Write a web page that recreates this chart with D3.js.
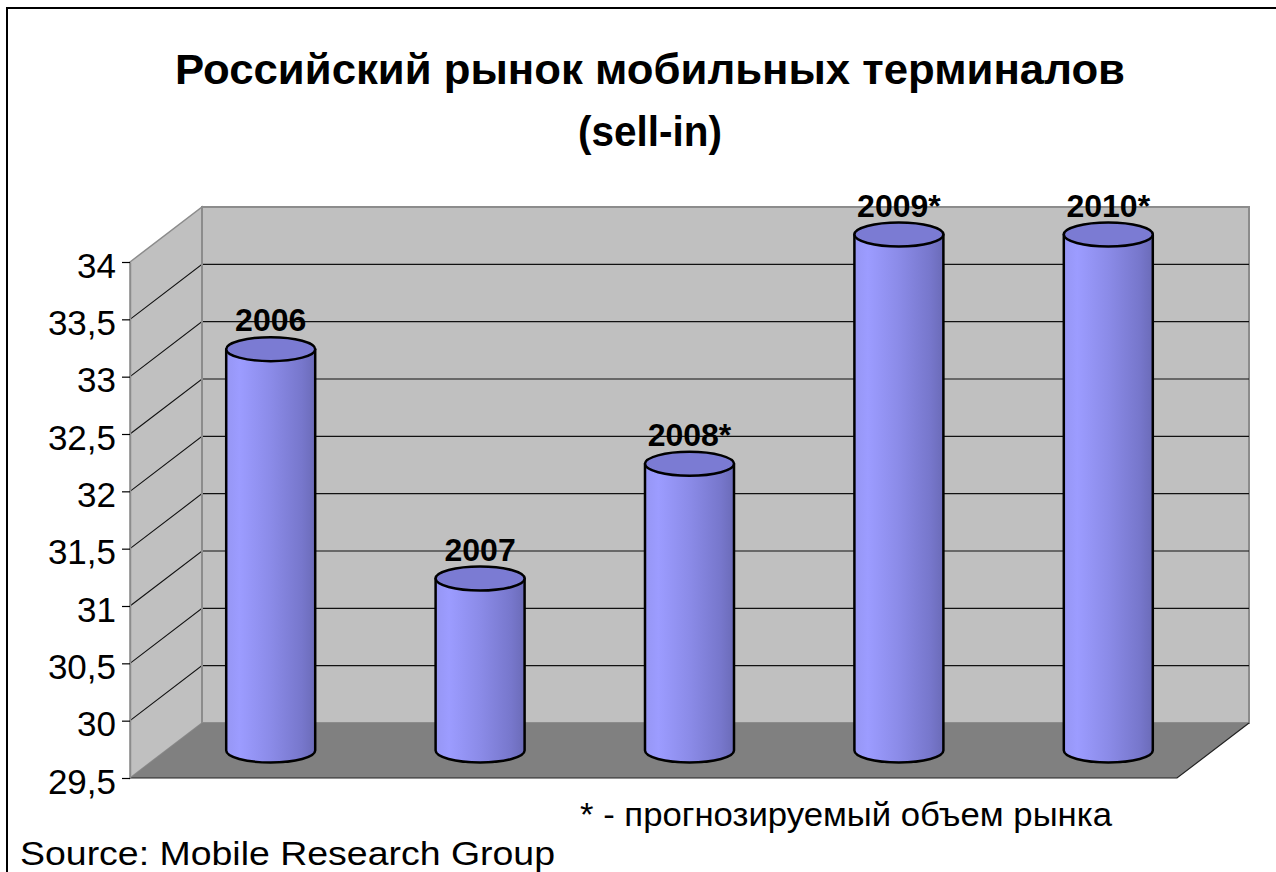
<!DOCTYPE html>
<html>
<head>
<meta charset="utf-8">
<script src="https://cdn.jsdelivr.net/npm/d3@7"></script>
<style>
  html, body { margin: 0; padding: 0; background: #fff; }
  svg { display: block; }
</style>
</head>
<body>
<script>
// ---- data ----
const categories = ["2006", "2007", "2008*", "2009*", "2010*"];
const values = [33, 31, 32, 34, 34];
const tickValues = [29.5, 30, 30.5, 31, 31.5, 32, 32.5, 33, 33.5, 34];
const titleLines = ["Российский рынок мобильных терминалов", "(sell-in)"];
const footnote = "* - прогнозируемый объем рынка";
const source = "Source: Mobile Research Group";

// ---- layout ----
const W = 1276, H = 872;
const front = { left: 130, right: 1177, top: 262, bottom: 778 };
const depth = { dx: 72, dy: -55 };
const tf = "'Liberation Sans', Arial, sans-serif";

const svg = d3.select("body").append("svg").attr("width", W).attr("height", H);
svg.append("rect").attr("width", W).attr("height", H).attr("fill", "#fff");

// frame
svg.append("path").attr("d", `M7,${H} V8 H${W}`).attr("fill", "none").attr("stroke", "#000").attr("stroke-width", 2);

const yFront = d3.scaleLinear().domain([29.5, 34]).range([front.bottom, front.top]);
const yAt = (v, t) => yFront(v) + depth.dy * t; // t = depth fraction 0..1
const x = d3.scaleBand().domain(categories)
  .range([front.left + depth.dx / 2, front.right + depth.dx / 2])
  .paddingInner(0).paddingOuter(0);

const bx = front.left + depth.dx, bxR = front.right + depth.dx;

// back wall
svg.append("rect")
  .attr("x", bx).attr("y", yAt(34, 1))
  .attr("width", bxR - bx).attr("height", yAt(29.5, 1) - yAt(34, 1))
  .attr("fill", "#c0c0c0").attr("stroke", "#8c8c8c").attr("stroke-width", 2);

// side wall
svg.append("path")
  .attr("d", `M${front.left},${yAt(34, 0)} L${bx},${yAt(34, 1)} L${bx},${yAt(29.5, 1)} L${front.left},${yAt(29.5, 0)} Z`)
  .attr("fill", "#c0c0c0").attr("stroke", "#8c8c8c").attr("stroke-width", 1.5);

// floor
svg.append("path")
  .attr("d", `M${front.left},${yAt(29.5, 0)} L${bx},${yAt(29.5, 1)} L${bxR},${yAt(29.5, 1)} L${front.right},${yAt(29.5, 0)} Z`)
  .attr("fill", "#808080");
svg.append("path")
  .attr("d", `M${front.left},${yAt(29.5, 0)} L${front.right},${yAt(29.5, 0)} L${bxR},${yAt(29.5, 1)}`)
  .attr("fill", "none").attr("stroke", "#222").attr("stroke-width", 1.2);

// gridlines
const gridVals = tickValues.filter(v => v > 29.5 && v < 34);
const grid = svg.append("g").attr("stroke", "#111").attr("stroke-width", 1.1).attr("fill", "none");
gridVals.forEach(v => {
  grid.append("path").attr("d", `M${front.left},${yAt(v, 0)} L${bx},${yAt(v, 1)} L${bxR},${yAt(v, 1)}`);
});
svg.append("line").attr("x1", bx).attr("x2", bx).attr("y1", yAt(34, 1)).attr("y2", yAt(29.5, 1))
  .attr("stroke", "#8c8c8c").attr("stroke-width", 2);

// y axis
const axis = d3.axisLeft(yFront).tickValues(tickValues).tickSize(8).tickSizeOuter(0).tickPadding(6)
  .tickFormat(d => String(d).replace(".", ","));
const gAxis = svg.append("g").attr("transform", `translate(${front.left},0)`).call(axis);
gAxis.select(".domain").attr("stroke", "#8c8c8c").attr("stroke-width", 1.5);
gAxis.selectAll(".tick line").attr("stroke", "#000").attr("stroke-width", 1.2);
gAxis.selectAll(".tick text")
  .attr("font-family", tf)
  .attr("font-size", 35).attr("fill", "#000").attr("dy", 15);

// cylinders
const defs = svg.append("defs");
const grad = defs.append("linearGradient").attr("id", "cyl").attr("x1", 0).attr("x2", 1).attr("y1", 0).attr("y2", 0);
[[0, "#9696f4"], [0.15, "#9c9cff"], [0.5, "#8b8be8"], [0.85, "#7777cc"], [1, "#6b6bb8"]]
  .forEach(([o, c]) => grad.append("stop").attr("offset", o).attr("stop-color", c));

const bw = x.bandwidth() * 0.425;
const rx = bw / 2, ry = 12;
const bars = svg.append("g").selectAll("g").data(categories.map((c, i) => ({ c, v: values[i] }))).join("g");
bars.each(function (d) {
  const g = d3.select(this);
  const cx = x(d.c) + x.bandwidth() / 2;
  const yTop = yAt(d.v, 0.5), yBot = yAt(29.5, 0.5);
  g.append("path")
    .attr("d", `M${cx - rx},${yTop} L${cx - rx},${yBot} A${rx},${ry} 0 0 0 ${cx + rx},${yBot} L${cx + rx},${yTop} Z`)
    .attr("fill", "url(#cyl)").attr("stroke", "#000").attr("stroke-width", 2.5).attr("stroke-linejoin", "round");
  g.append("ellipse").attr("cx", cx).attr("cy", yTop).attr("rx", rx).attr("ry", ry)
    .attr("fill", "#7b7bd3").attr("stroke", "#000").attr("stroke-width", 2.5);
  g.append("text").attr("x", cx).attr("y", yTop - ry - 6)
    .attr("text-anchor", "middle")
    .attr("font-family", tf)
    .attr("font-weight", "bold").attr("font-size", 32).attr("fill", "#000")
    .text(d.c);
});

// title
svg.append("text").attr("x", 650).attr("y", 84).attr("text-anchor", "middle")
  .attr("font-family", tf).attr("font-weight", "bold").attr("font-size", 42)
  .attr("textLength", 950).attr("lengthAdjust", "spacingAndGlyphs")
  .text(titleLines[0]);
svg.append("text").attr("x", 650).attr("y", 146).attr("text-anchor", "middle")
  .attr("font-family", tf).attr("font-weight", "bold").attr("font-size", 42)
  .attr("textLength", 144).attr("lengthAdjust", "spacingAndGlyphs")
  .text(titleLines[1]);

// footnotes
svg.append("text").attr("x", 580).attr("y", 826)
  .attr("font-family", tf).attr("font-size", 34)
  .attr("textLength", 532).attr("lengthAdjust", "spacingAndGlyphs")
  .text(footnote);
svg.append("text").attr("x", 20).attr("y", 865)
  .attr("font-family", tf).attr("font-size", 34)
  .attr("textLength", 535).attr("lengthAdjust", "spacingAndGlyphs")
  .text(source);
</script>
</body>
</html>
